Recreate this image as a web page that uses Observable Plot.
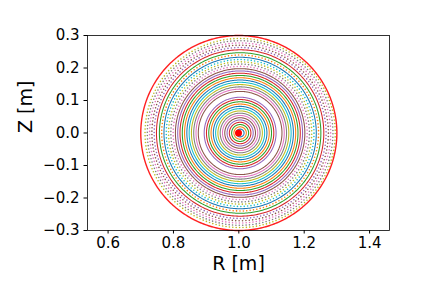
<!DOCTYPE html>
<html>
<head>
<meta charset="utf-8">
<script src="https://cdn.jsdelivr.net/npm/d3@7"></script>
<script src="https://cdn.jsdelivr.net/npm/@observablehq/plot@0.6"></script>
<style>
  html, body { margin: 0; padding: 0; background: white; }
</style>
</head>
<body>
<div id="chart"></div>
<script>
// Flux-surface radii (m), innermost first
const radii = [
  0.012, 0.019, 0.026, 0.033, 0.040, 0.047, 0.054, 0.061, 0.068, 0.075,
  0.082, 0.089, 0.096, 0.103, 0.110,
  0.128, 0.135, 0.142, 0.149, 0.156, 0.163, 0.170, 0.177, 0.184, 0.191,
  0.198, 0.205, 0.212, 0.219, 0.226, 0.233, 0.240, 0.247, 0.256, 0.263,
  0.270, 0.277, 0.284, 0.291
];
const ringCenterR = 1.004;
const boundaryRadius = 0.30;
const boundaryCenterR = 1.0;
const magneticAxis = [{R: 0.999, Z: 0.0}];
const xTicks = [0.6, 0.8, 1.0, 1.2, 1.4];
const yTicks = [-0.3, -0.2, -0.1, 0.0, 0.1, 0.2, 0.3];
const xDomain = [0.537, 1.461];
const yDomain = [-0.3, 0.3];

const tab10 = ["#1f77b4","#ff7f0e","#2ca02c","#d62728","#9467bd","#8c564b","#e377c2","#7f7f7f","#bcbd22","#17becf"];
const solidOuter = new Set([30, 32, 33]);
const pxPerM = 327;

const solidPts = [], dotPts = [];
radii.forEach((r, i) => {
  const dotted = r > 0.2 && !solidOuter.has(i);
  const n = dotted ? Math.round(2 * Math.PI * r * pxPerM / 3.4) : 360;
  const target = dotted ? dotPts : solidPts;
  for (let k = 0; k <= (dotted ? n - 1 : n); k++) {
    const a = 2 * Math.PI * k / n + (dotted ? i * 0.37 : 0);
    target.push({R: ringCenterR + r * Math.cos(a), Z: r * Math.sin(a), ring: i, color: tab10[i % 10]});
  }
});
const boundaryPts = d3.range(361).map(k => {
  const a = 2 * Math.PI * k / 360;
  return {R: boundaryCenterR + boundaryRadius * Math.cos(a), Z: boundaryRadius * Math.sin(a)};
});

const fmt = d3.format(".1f");
const chart = Plot.plot({
  width: 432,
  height: 288,
  marginLeft: 87,
  marginRight: 43,
  marginTop: 35,
  marginBottom: 58,
  x: {domain: xDomain},
  y: {domain: yDomain},
  color: {type: "identity"},
  style: {fontFamily: "DejaVu Sans", fontSize: "15px", background: "white", color: "black"},
  marks: [
    Plot.line(solidPts, {x: "R", y: "Z", z: "ring", stroke: "color", strokeWidth: 1.05}),
    Plot.dot(dotPts, {x: "R", y: "Z", r: 0.8, fill: "color", stroke: null}),
    Plot.line(boundaryPts, {x: "R", y: "Z", stroke: "#ff2020", strokeWidth: 1.4}),
    Plot.dot(magneticAxis, {x: "R", y: "Z", r: 3.5, fill: "red", stroke: null}),
    Plot.frame({stroke: "black", strokeWidth: 0.8}),
    Plot.axisX(xTicks, {tickFormat: fmt, fontSize: 15, tickSize: 3.5, tickPadding: 3.5, label: null}),
    Plot.axisY(yTicks, {tickFormat: fmt, fontSize: 15, tickSize: 3.5, tickPadding: 4.5, label: null}),
    Plot.text(["R [m]"], {text: d => d, frameAnchor: "bottom", dy: 39, fontSize: 19}),
    Plot.text(["Z [m]"], {text: d => d, frameAnchor: "left", dx: -62, rotate: -90, fontSize: 19})
  ]
});
document.getElementById("chart").appendChild(chart);
</script>
</body>
</html>
